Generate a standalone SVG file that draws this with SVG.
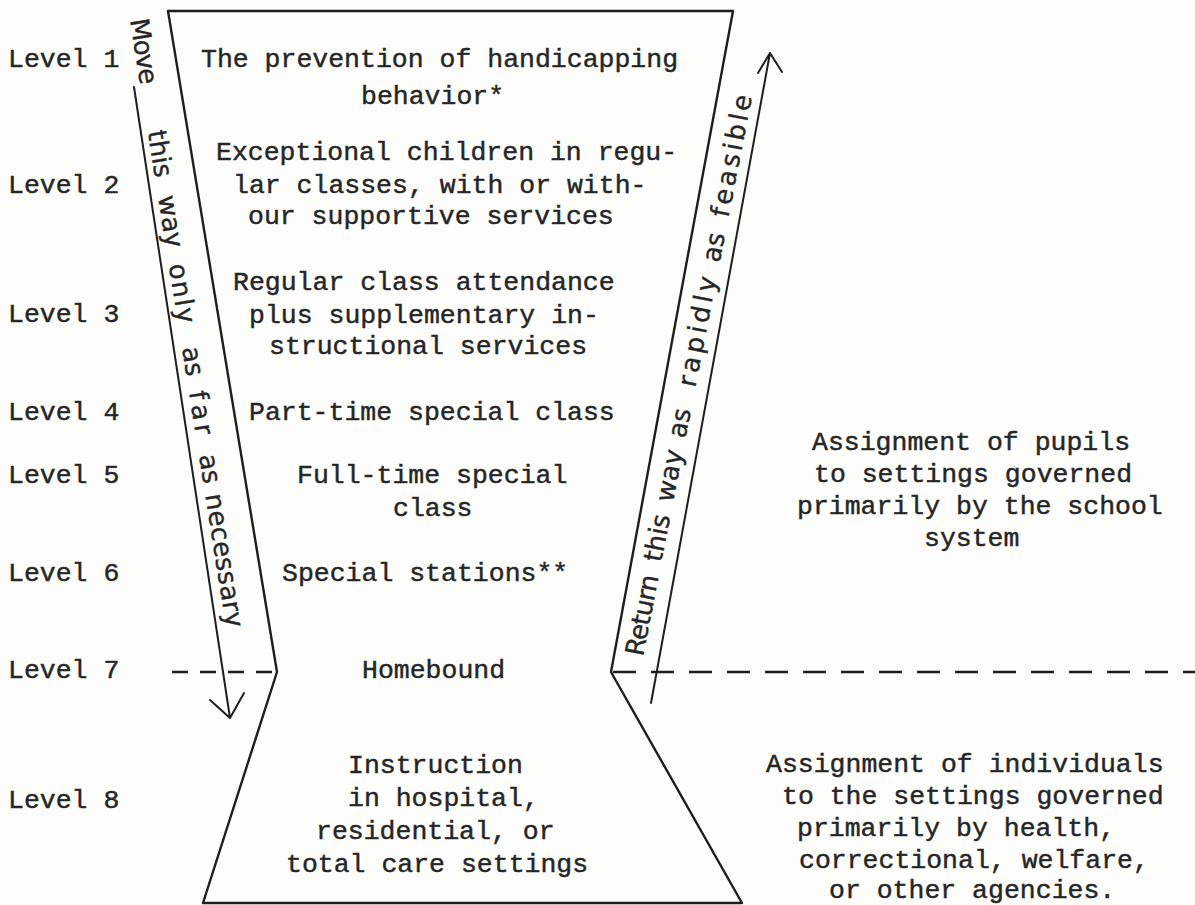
<svg xmlns="http://www.w3.org/2000/svg" width="1195" height="905" viewBox="0 0 1195 905">
<style>
.tw{font-family:"Liberation Mono","Courier New",monospace;font-size:26.5px;fill:#262626;stroke:#262626;stroke-width:0.45}
.hw{font-family:"DejaVu Sans","Open Sans",sans-serif;font-size:26px;fill:#262626;stroke:#262626;stroke-width:0.35}
.ln{fill:none;stroke:#1e1e1e;stroke-width:2.4;stroke-linecap:round;stroke-linejoin:round}
.bd{fill:none;stroke:#1e1e1e;stroke-width:2;stroke-linecap:round;stroke-linejoin:round}
.dash{fill:none;stroke:#1e1e1e;stroke-width:2.5}
</style>
<rect width="1195" height="905" fill="#fdfdfc"/>

<g id="funnel">
<polygon class="ln" points="168,11 733,11 611,672 742,903 203,903 277,672"/>
</g>

<g id="levels">
<text class="tw" x="8" y="67">Level 1</text>
<text class="tw" x="8" y="193">Level 2</text>
<text class="tw" x="8" y="322">Level 3</text>
<text class="tw" x="8" y="420">Level 4</text>
<text class="tw" x="8" y="483">Level 5</text>
<text class="tw" x="8" y="581">Level 6</text>
<text class="tw" x="8" y="678">Level 7</text>
<text class="tw" x="8" y="808">Level 8</text>
</g>

<g id="level1"><text class="tw" x="201" y="67">The prevention of handicapping</text><text class="tw" x="361" y="104">behavior*</text></g>
<g id="level2"><text class="tw" x="216" y="160">Exceptional children in regu-</text><text class="tw" x="233" y="193">lar classes, with or with-</text><text class="tw" x="248" y="224">our supportive services</text></g>
<g id="level3"><text class="tw" x="233" y="290">Regular class attendance</text><text class="tw" x="249" y="323">plus supplementary in-</text><text class="tw" x="269" y="354">structional services</text></g>
<g id="level4"><text class="tw" x="249" y="420">Part-time special class</text></g>
<g id="level5"><text class="tw" x="297" y="483">Full-time special</text><text class="tw" x="393" y="516">class</text></g>
<g id="level6"><text class="tw" x="282" y="581">Special stations**</text></g>
<g id="level7"><text class="tw" x="362" y="678">Homebound</text></g>
<g id="level8"><text class="tw" x="348" y="773">Instruction</text><text class="tw" x="348" y="806">in hospital,</text><text class="tw" x="316" y="839">residential, or</text><text class="tw" x="286" y="872">total care settings</text></g>

<g id="school-note">
<text class="tw" x="812" y="450">Assignment of pupils</text>
<text class="tw" x="814" y="482">to settings governed</text>
<text class="tw" x="797" y="514">primarily by the school</text>
<text class="tw" x="924" y="546">system</text>
</g>
<g id="agency-note">
<text class="tw" x="766" y="772">Assignment of individuals</text>
<text class="tw" x="782" y="804">to the settings governed</text>
<text class="tw" x="797" y="836">primarily by health,</text>
<text class="tw" x="799" y="868">correctional, welfare,</text>
<text class="tw" x="829" y="898">or other agencies.</text>
</g>

<g id="connectors">
<path class="bd" d="M134,87 L230,718 M210,700 L230,718 L244,693"/>
<path class="bd" d="M651,703 L770,53 M758,73 L770,53 L782,72"/>
<line class="dash" x1="172" y1="672" x2="277" y2="672" stroke-dasharray="16 12"/>
<line class="dash" x1="613" y1="672" x2="1195" y2="672" stroke-dasharray="23 15"/>
</g>

<g id="move-label" transform="translate(130,20) rotate(81)">
<text class="hw" x="0" y="0" textLength="66" lengthAdjust="spacing">Move</text>
<text class="hw" x="113" y="0">this</text>
<text class="hw" x="179" y="0">way</text>
<text class="hw" x="248" y="0" textLength="60" lengthAdjust="spacing">only</text>
<text class="hw" x="332" y="0">as</text>
<text class="hw" x="377" y="0" textLength="44" lengthAdjust="spacing">far</text>
<text class="hw" x="441" y="0">as</text>
<text class="hw" x="481" y="0" textLength="135" lengthAdjust="spacing">necessary</text>
</g>

<g id="return-label" transform="translate(643,657) rotate(-79)">
<text class="hw" x="0" y="0" textLength="82" lengthAdjust="spacing">Return</text>
<text class="hw" x="96" y="0">this</text>
<text class="hw" x="157" y="0">way</text>
<text class="hw" x="222" y="0">as</text>
<text class="hw" x="274" y="0" textLength="112" lengthAdjust="spacing">rapidly</text>
<text class="hw" x="401" y="0">as</text>
<text class="hw" x="447" y="0" textLength="124" lengthAdjust="spacing">feasible</text>
</g>
</svg>
